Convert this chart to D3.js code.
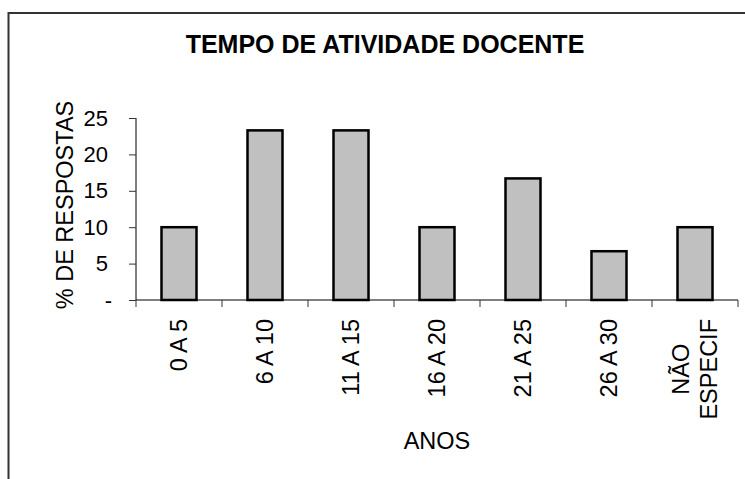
<!DOCTYPE html>
<html>
<head>
<meta charset="utf-8">
<script src="https://cdnjs.cloudflare.com/ajax/libs/d3/7.8.5/d3.min.js"></script>
<style>
	body { margin: 0; background: #fff; }
	text { font-family: "Liberation Sans", Arial, sans-serif; fill: #000; }
</style>
</head>
<body>
<div id="chart"></div>
<script>
// chart data
var categories = [["0 A 5"], ["6 A 10"], ["11 A 15"], ["16 A 20"], ["21 A 25"], ["26 A 30"], ["NÃO", "ESPECIF"]];
var values = [10, 23.3, 23.3, 10, 16.7, 6.7, 10];
var yTicks = [0, 5, 10, 15, 20, 25];
var title = "TEMPO DE ATIVIDADE DOCENTE";
var xTitle = "ANOS";
var yTitle = "% DE RESPOSTAS";

var width = 745;
var height = 479;
var plot = { left: 136, right: 738, top: 118, bottom: 300 };

var svg = d3.select("#chart")
	.append("svg")
	.attr("width", width)
	.attr("height", height);

// outer frame
svg.append("rect")
	.attr("x", 8.5)
	.attr("y", 13)
	.attr("width", 800)
	.attr("height", 600)
	.attr("fill", "none")
	.attr("stroke", "#333")
	.attr("stroke-width", 2);

var keys = categories.map(function (d, i) { return i; });

var x = d3.scaleBand()
	.domain(keys)
	.range([plot.left, plot.right])
	.paddingInner(0.593)
	.paddingOuter(0.2965);

var y = d3.scaleLinear()
	.domain([0, 25])
	.range([plot.bottom, plot.top]);

// y axis
var yAxis = svg.append("g")
	.attr("transform", "translate(" + plot.left + ",0)")
	.call(d3.axisLeft(y)
		.tickValues(yTicks)
		.tickSize(7)
		.tickPadding(21)
		.tickFormat(function (d) { return d === 0 ? "-" : d; }));

yAxis.select(".domain").attr("stroke", "#000").attr("d", "M0," + y(0) + "V" + y(25));
yAxis.selectAll(".tick line").attr("stroke", "#333");
yAxis.selectAll(".tick text")
	.style("font-size", "22px")
	.attr("dx", function (d) { return d === 0 ? 4 : 0; });

// bars
svg.selectAll(".bar")
	.data(values)
	.enter()
	.append("rect")
	.attr("class", "bar")
	.attr("x", function (d, i) { return x(i); })
	.attr("y", function (d) { return y(d); })
	.attr("width", x.bandwidth())
	.attr("height", function (d) { return y(0) - y(d); })
	.attr("fill", "#c0c0c0")
	.attr("stroke", "#000")
	.attr("stroke-width", 2.5);

// x axis line and ticks at band boundaries
svg.append("line")
	.attr("x1", plot.left)
	.attr("x2", plot.right)
	.attr("y1", y(0))
	.attr("y2", y(0))
	.attr("stroke", "#000");

var gap = (x.step() - x.bandwidth()) / 2;
var bounds = keys.map(function (i) { return x(i) - gap; });
bounds.push(x(keys.length - 1) + x.bandwidth() + gap);

svg.selectAll(".xtick")
	.data(bounds)
	.enter()
	.append("line")
	.attr("class", "xtick")
	.attr("x1", function (d) { return d; })
	.attr("x2", function (d) { return d; })
	.attr("y1", y(0))
	.attr("y2", y(0) + 7)
	.attr("stroke", "#333");

// category labels, rotated, lines centred in the block
var labelTop = y(0) + 19;
var lineGap = 28;

categories.forEach(function (lines, i) {
	var cx = x(i) + x.bandwidth() / 2;
	var g = svg.append("g")
		.attr("transform", "translate(" + cx + "," + labelTop + ") rotate(-90)");
	var texts = lines.map(function (line, j) {
		return g.append("text")
			.attr("text-anchor", "middle")
			.attr("dy", "0.35em")
			.attr("y", (j - (lines.length - 1) / 2) * lineGap)
			.style("font-size", "23.5px")
			.text(line);
	});
	var maxLen = d3.max(texts, function (t) { return t.node().getComputedTextLength(); });
	texts.forEach(function (t) { t.attr("x", -maxLen / 2); });
});

// titles
svg.append("text")
	.attr("x", 385)
	.attr("y", 53)
	.attr("text-anchor", "middle")
	.style("font-size", "25px")
	.style("font-weight", "bold")
	.text(title);

svg.append("text")
	.attr("x", (plot.left + plot.right) / 2)
	.attr("y", 449)
	.attr("text-anchor", "middle")
	.style("font-size", "23.5px")
	.text(xTitle);

svg.append("text")
	.attr("transform", "translate(73," + ((plot.top + plot.bottom) / 2 - 4) + ") rotate(-90)")
	.attr("text-anchor", "middle")
	.style("font-size", "23.5px")
	.text(yTitle);
</script>
</body>
</html>
